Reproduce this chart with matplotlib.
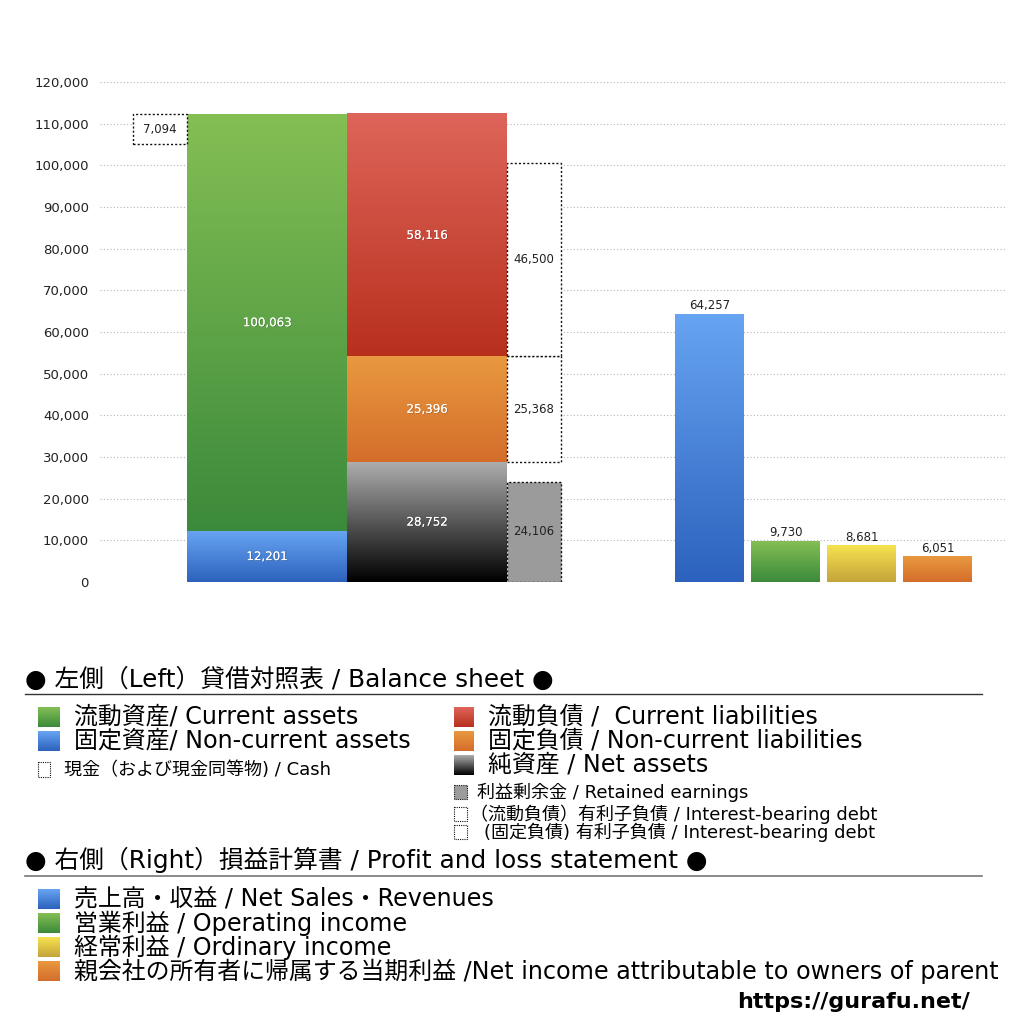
import numpy as np
import matplotlib
matplotlib.use("Agg")
import matplotlib.pyplot as plt
import matplotlib.patheffects as pe
from matplotlib.colors import LinearSegmentedColormap
from matplotlib.patches import Rectangle

plt.rcParams['font.family'] = ['DejaVu Sans', 'Noto Sans CJK JP']

# balance sheet (left)
asset_names = ['固定資産', '流動資産']
asset_vals = [12201, 100063]
liab_names = ['純資産', '固定負債', '流動負債']
liab_vals = [28752, 25396, 58116]
cash = 7094
retained = 24106
debt_noncurrent = 25368
debt_current = 46500

# profit and loss (right)
pl_names = ['売上高・収益', '営業利益', '経常利益', '当期利益']
pl_vals = [64257, 9730, 8681, 6051]

yticks = list(range(0, 120001, 10000))

# gradient colours (top, bottom)
C_GREEN = ('#84bf54', '#3b8a3b')
C_BLUE = ('#67a4f2', '#2c62bd')
C_RED = ('#de655a', '#b8301d')
C_ORANGE = ('#e9993f', '#d46d2b')
C_BLACK = ('#adadad', '#000000')
C_YELLOW = ('#f6e24f', '#c4a43a')

W, H = 1024, 1024
fig = plt.figure(figsize=(W / 100, H / 100), dpi=100)


def px(x0, y0, x1, y1):
    # pixel box (top-left origin) -> figure fraction
    return [x0 / W, 1 - y1 / H, (x1 - x0) / W, (y1 - y0) / H]


ax = fig.add_axes(px(100, 82, 1007, 582))
ax.set_xlim(100, 1007)
ax.set_ylim(0, 120000)


def gradient(axis, x0, y0, w, h, cols, z=2):
    cmap = LinearSegmentedColormap.from_list('g', [cols[1], cols[0]])
    g = np.linspace(0, 1, 256).reshape(-1, 1)
    axis.imshow(g, extent=[x0, x0 + w, y0, y0 + h], origin='lower', cmap=cmap,
                aspect='auto', zorder=z, interpolation='bilinear')


def grad_bars(bars, cols_list):
    for b, cols in zip(bars, cols_list):
        b.set_alpha(0)
        gradient(ax, b.get_x(), b.get_y(), b.get_width(), b.get_height(), cols)


shadow = [pe.withSimplePatchShadow(offset=(0.5, -0.5), shadow_rgbFace='#000000', alpha=0.25), pe.Normal()]

# assets stack
a_bottoms = np.concatenate([[0], np.cumsum(asset_vals)[:-1]])
bars = ax.bar(267, asset_vals, width=160, bottom=a_bottoms)
grad_bars(bars, [C_BLUE, C_GREEN])
for b, v in zip(bars, asset_vals):
    ax.text(b.get_x() + b.get_width() / 2, b.get_y() + b.get_height() / 2, f'{v:,}',
            ha='center', va='center', color='white', fontsize=8.5, zorder=5, path_effects=shadow)

# liabilities + net assets stack
l_bottoms = np.concatenate([[0], np.cumsum(liab_vals)[:-1]])
bars = ax.bar(427, liab_vals, width=160, bottom=l_bottoms)
grad_bars(bars, [C_BLACK, C_ORANGE, C_RED])
for b, v in zip(bars, liab_vals):
    ax.text(b.get_x() + b.get_width() / 2, b.get_y() + b.get_height() / 2, f'{v:,}',
            ha='center', va='center', color='white', fontsize=8.5, zorder=5, path_effects=shadow)

total = sum(asset_vals)
top_nc = liab_vals[0] + liab_vals[1]

# dotted boxes
dot = dict(linestyle=(0, (1.5, 1.5)), edgecolor='#111111', linewidth=1.0, zorder=4)
boxes = [
    (160, total - cash, cash, 'white'),
    (534, 0, retained, '#9b9b9b'),
    (534, top_nc - debt_noncurrent, debt_noncurrent, 'white'),
    (534, top_nc, debt_current, 'white'),
]
for xc, y0, v, fc in boxes:
    ax.bar(xc, v, width=54, bottom=y0, facecolor=fc, **dot)
    ax.text(xc, y0 + v / 2, f'{v:,}', ha='center', va='center', fontsize=8.5,
            color='#222222', zorder=5)

# profit and loss bars
pl_x = [709.5, 785.5, 861.5, 937.5]
bars = ax.bar(pl_x, pl_vals, width=69)
grad_bars(bars, [C_BLUE, C_GREEN, C_YELLOW, C_ORANGE])
for b, v in zip(bars, pl_vals):
    ax.text(b.get_x() + b.get_width() / 2, v + 500, f'{v:,}', ha='center', va='bottom',
            fontsize=8.5, color='#222222', zorder=5)

ax.set_xlim(100, 1007)
ax.set_ylim(0, 120000)
ax.set_yticks(yticks)
ax.set_yticklabels([f'{t:,}' for t in yticks], fontsize=9.5, color='#222222')
ax.set_xticks([])
ax.tick_params(axis='y', length=0, pad=8)
ax.yaxis.grid(True, linestyle=(0, (1, 2)), color='#b5b5b5', linewidth=0.8)
ax.set_axisbelow(True)
for s in ax.spines.values():
    s.set_visible(False)

# legend area drawn in pixel coordinates
lg = fig.add_axes([0, 0, 1, 1], zorder=10)
lg.set_xlim(0, W)
lg.set_ylim(H, 0)
lg.axis('off')
lg.patch.set_visible(False)


def sq(x0, y0, w, h, cols):
    cmap = LinearSegmentedColormap.from_list('g', [cols[0], cols[1]])
    g = np.linspace(0, 1, 64).reshape(-1, 1)
    lg.imshow(g, extent=[x0, x0 + w, y0 + h, y0], origin='upper', cmap=cmap,
              aspect='auto', interpolation='bilinear')


def dsq(x0, y0, w, h, fc='white'):
    lg.add_patch(Rectangle((x0, y0), w, h, facecolor=fc, edgecolor='#111111',
                           linestyle=(0, (1, 1)), linewidth=0.8))


TITLE = 17.8
BIG = 17.2
SMALL = 13

lg.text(25, 680, '● 左側（Left）貸借対照表 / Balance sheet ●', fontsize=TITLE, va='center', ha='left')
lg.plot([25, 982], [694, 694], color='#333333', lw=1)

sq(38, 707, 22, 20, C_GREEN)
lg.text(74, 717, '流動資産/ Current assets', fontsize=BIG, va='center')
sq(38, 731, 22, 20, C_BLUE)
lg.text(74, 741, '固定資産/ Non-current assets', fontsize=BIG, va='center')
dsq(38, 762, 12, 15)
lg.text(64, 770, '現金（および現金同等物) / Cash', fontsize=SMALL, va='center')

sq(454, 707, 20, 20, C_RED)
lg.text(488, 717, '流動負債 /  Current liabilities', fontsize=BIG, va='center')
sq(454, 731, 20, 20, C_ORANGE)
lg.text(488, 741, '固定負債 / Non-current liabilities', fontsize=BIG, va='center')
sq(454, 755, 20, 20, C_BLACK)
lg.text(488, 765, '純資産 / Net assets', fontsize=BIG, va='center')
dsq(454, 785, 13, 14, '#9b9b9b')
lg.text(477, 792, '利益剰余金 / Retained earnings', fontsize=SMALL, va='center')
dsq(454, 807, 13, 14)
lg.text(470, 814, '（流動負債）有利子負債 / Interest-bearing debt', fontsize=SMALL, va='center')
dsq(454, 825, 13, 14)
lg.text(484, 832, '(固定負債) 有利子負債 / Interest-bearing debt', fontsize=SMALL, va='center')

lg.text(25, 860, '● 右側（Right）損益計算書 / Profit and loss statement ●', fontsize=TITLE, va='center')
lg.plot([25, 982], [876, 876], color='#777777', lw=1.2)

pl_labels = ['売上高・収益 / Net Sales・Revenues',
             '営業利益 / Operating income',
             '経常利益 / Ordinary income',
             '親会社の所有者に帰属する当期利益 /Net income attributable to owners of parent']
for i, (lab, cols) in enumerate(zip(pl_labels, [C_BLUE, C_GREEN, C_YELLOW, C_ORANGE])):
    yc = 899 + 24 * i
    sq(38, yc - 10, 22, 20, cols)
    lg.text(74, yc, lab, fontsize=BIG, va='center')

lg.text(970, 1002, 'https://gurafu.net/', fontsize=16, fontweight='bold', ha='right',
        va='center')

fig.savefig('out.png', dpi=100, facecolor='white')
